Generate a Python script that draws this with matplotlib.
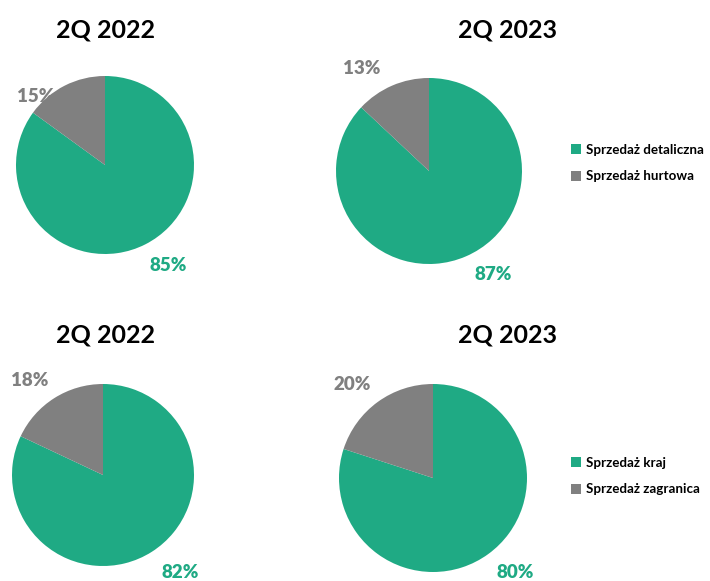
import matplotlib.pyplot as plt
from matplotlib.patches import Patch

plt.rcParams['font.family'] = ['Lato', 'DejaVu Sans']

green = '#1FAA84'
grey = '#808080'

titles = ['2Q 2022', '2Q 2023', '2Q 2022', '2Q 2023']
shares_top_2022 = [85, 15]
shares_top_2023 = [87, 13]
shares_bot_2022 = [82, 18]
shares_bot_2023 = [80, 20]
legend_top = ['Sprzedaż detaliczna', 'Sprzedaż hurtowa']
legend_bot = ['Sprzedaż kraj', 'Sprzedaż zagranica']

W, H = 710, 581
fig = plt.figure(figsize=(W / 100, H / 100), dpi=100)

# pie centre x, centre y, radius (pixels), title x, title y,
# big label pos, small label pos
layout = [
    (105, 165, 89, 105, 30, (168, 265), (36, 96)),
    (429, 171, 93, 507, 30, (493, 275), (362, 68)),
    (103, 475, 91, 105, 335, (180, 573), (30, 381)),
    (433, 478, 94, 507, 335, (515, 573), (352, 385)),
]
data = [shares_top_2022, shares_top_2023, shares_bot_2022, shares_bot_2023]

for vals, title, (cx, cy, r, tx, ty, big, small) in zip(data, titles, layout):
    ax = fig.add_axes([(cx - r) / W, 1 - (cy + r) / H, 2 * r / W, 2 * r / H])
    ax.pie(vals, colors=[green, grey], startangle=90, counterclock=False,
           radius=1, wedgeprops=dict(linewidth=0))
    ax.set_xlim(-1, 1)
    ax.set_ylim(-1, 1)
    ax.set_aspect('auto')
    ax.axis('off')
    fig.text(tx / W, 1 - ty / H, title, ha='center', va='center',
             fontsize=18, fontweight='bold', color='black')
    fig.text(big[0] / W, 1 - big[1] / H, f'{vals[0]}%', ha='center', va='center',
             fontsize=13.5, fontweight='heavy', color=green)
    fig.text(small[0] / W, 1 - small[1] / H, f'{vals[1]}%', ha='center', va='center',
             fontsize=13.5, fontweight='heavy', color=grey)

for labels, y in [(legend_top, 163), (legend_bot, 476)]:
    handles = [Patch(facecolor=green), Patch(facecolor=grey)]
    fig.legend(handles, labels, loc='center left', bbox_to_anchor=(567 / W, 1 - y / H),
               frameon=False, handlelength=0.75, handleheight=0.75, handletextpad=0.4,
               labelspacing=1.1, borderaxespad=0, borderpad=0.3,
               prop=dict(weight='bold', size=9.6))

fig.savefig('out.png', dpi=100)
